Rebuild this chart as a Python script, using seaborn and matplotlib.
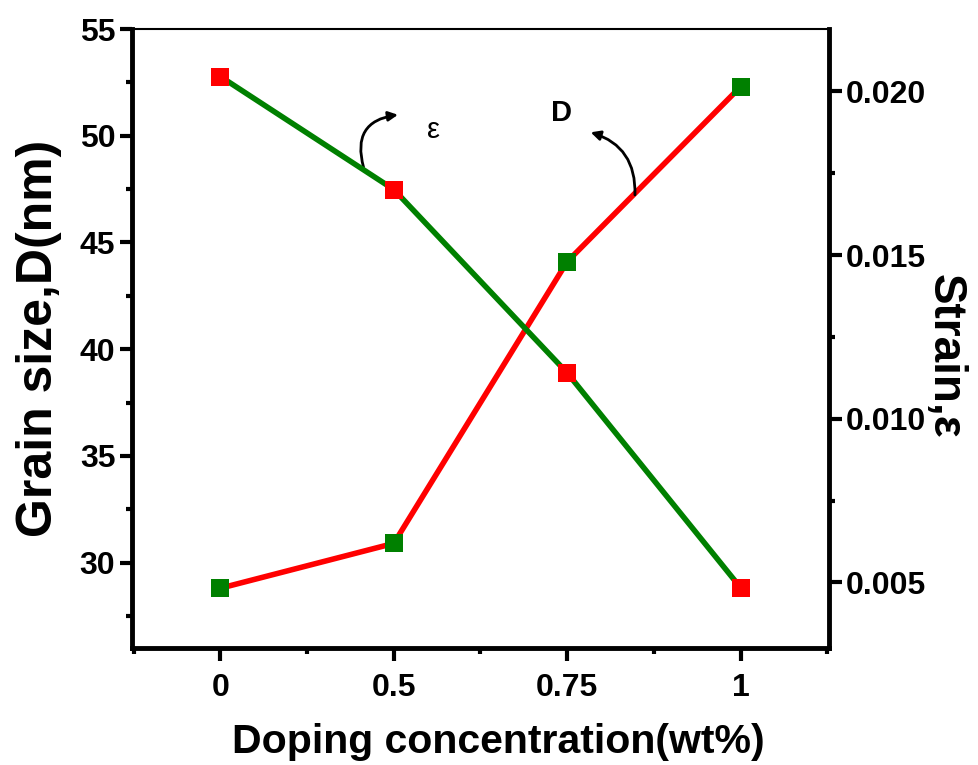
"""
Grain size and strain against doping concentration,
drawn on two y axes that share one categorical x axis.
"""

import matplotlib
matplotlib.use("Agg")
import matplotlib.pyplot as plt
from matplotlib.ticker import MultipleLocator, AutoMinorLocator, FormatStrFormatter
import pandas as pd
import seaborn as sns

# values
concentration = ["0", "0.5", "0.75", "1"]
grain_size = [28.8, 30.9, 44.1, 52.3]
strain = [0.02045, 0.0170, 0.0114, 0.00484]

RED = "#ff0000"
GREEN = "#008000"


def style_axis(ax):
    """ Thick outward ticks like the original figure. """
    ax.tick_params(which="major", direction="out", length=9, width=3,
                   labelsize=23, pad=3, color="black", labelcolor="black")
    ax.tick_params(which="minor", direction="out", length=4.5, width=3,
                   color="black")


def main():
    sns.set_theme(style="ticks")
    plt.rcParams["font.family"] = ["Liberation Sans", "DejaVu Sans"]
    plt.rcParams["font.weight"] = "bold"
    plt.rcParams["text.color"] = "black"
    plt.rcParams["axes.labelcolor"] = "black"

    data = pd.DataFrame({"Concentration": concentration,
                         "D": grain_size, "Strain": strain})

    fig = plt.figure(figsize=(9.79, 7.65), dpi=100)
    ax1 = fig.add_axes([0.1348, 0.153, 0.712, 0.809])
    ax2 = ax1.twinx()

    sns.lineplot(x="Concentration", y="D", data=data, sort=False, ax=ax1,
                 color=RED, lw=4, marker="s", markersize=13,
                 markerfacecolor=GREEN, markeredgecolor=GREEN,
                 markeredgewidth=0)
    sns.lineplot(x="Concentration", y="Strain", data=data, sort=False,
                 ax=ax2, color=GREEN, lw=4, marker="s", markersize=13,
                 markerfacecolor=RED, markeredgecolor=RED,
                 markeredgewidth=0)

    style_axis(ax1)
    style_axis(ax2)
    ax1.tick_params(axis="x", which="major", pad=9)

    # x axis
    ax1.set_xlim(-0.51, 3.51)
    ax1.xaxis.set_minor_locator(AutoMinorLocator(2))
    ax1.set_xlabel("Doping concentration(wt%)", fontsize=29.5,
                   fontweight="bold")
    ax1.xaxis.set_label_coords(0.525, -0.152)
    ax1.xaxis.label.set_va("center")

    # left axis
    ax1.set_ylim(26, 55)
    ax1.set_yticks(range(30, 56, 5))
    ax1.yaxis.set_minor_locator(MultipleLocator(2.5))
    ax1.set_ylabel("Grain size,D(nm)", fontsize=36, fontweight="bold",
                   labelpad=13)

    # right axis
    ax2.set_ylim(0.003, 0.0219)
    ax2.set_yticks([0.005, 0.010, 0.015, 0.020])
    ax2.yaxis.set_major_formatter(FormatStrFormatter("%.3f"))
    ax2.yaxis.set_minor_locator(MultipleLocator(0.0025))
    ax2.set_ylabel("Strain,ε", fontsize=33, fontweight="bold",
                   rotation=270, va="bottom")
    ax2.yaxis.set_label_coords(1.134, 0.472)

    for side in ["left", "bottom"]:
        ax1.spines[side].set_linewidth(3.5)
    ax1.spines["top"].set_linewidth(1.5)
    ax1.spines["right"].set_visible(False)
    for side in ["left", "bottom", "top"]:
        ax2.spines[side].set_visible(False)
    ax2.spines["right"].set_linewidth(3.5)
    for spine in list(ax1.spines.values()) + list(ax2.spines.values()):
        spine.set_color("black")

    # curved arrows pointing from each line to its symbol
    ax1.annotate("", xy=(1.04, 51.0), xytext=(0.83, 48.4),
                 arrowprops=dict(arrowstyle="-|>", color="black", lw=2,
                                 mutation_scale=14,
                                 connectionstyle="arc3,rad=-0.6"))
    ax1.annotate("", xy=(2.12, 50.2), xytext=(2.39, 47.1),
                 arrowprops=dict(arrowstyle="-|>", color="black", lw=2,
                                 mutation_scale=14,
                                 connectionstyle="arc3,rad=0.4"))
    ax1.text(1.23, 50.25, "ε", fontsize=21, fontweight="normal",
             ha="center", va="center")
    ax1.text(1.97, 51.05, "D", fontsize=21, fontweight="bold",
             ha="center", va="center")

    fig.savefig("out.png", dpi=100)


if __name__ == "__main__":
    main()
